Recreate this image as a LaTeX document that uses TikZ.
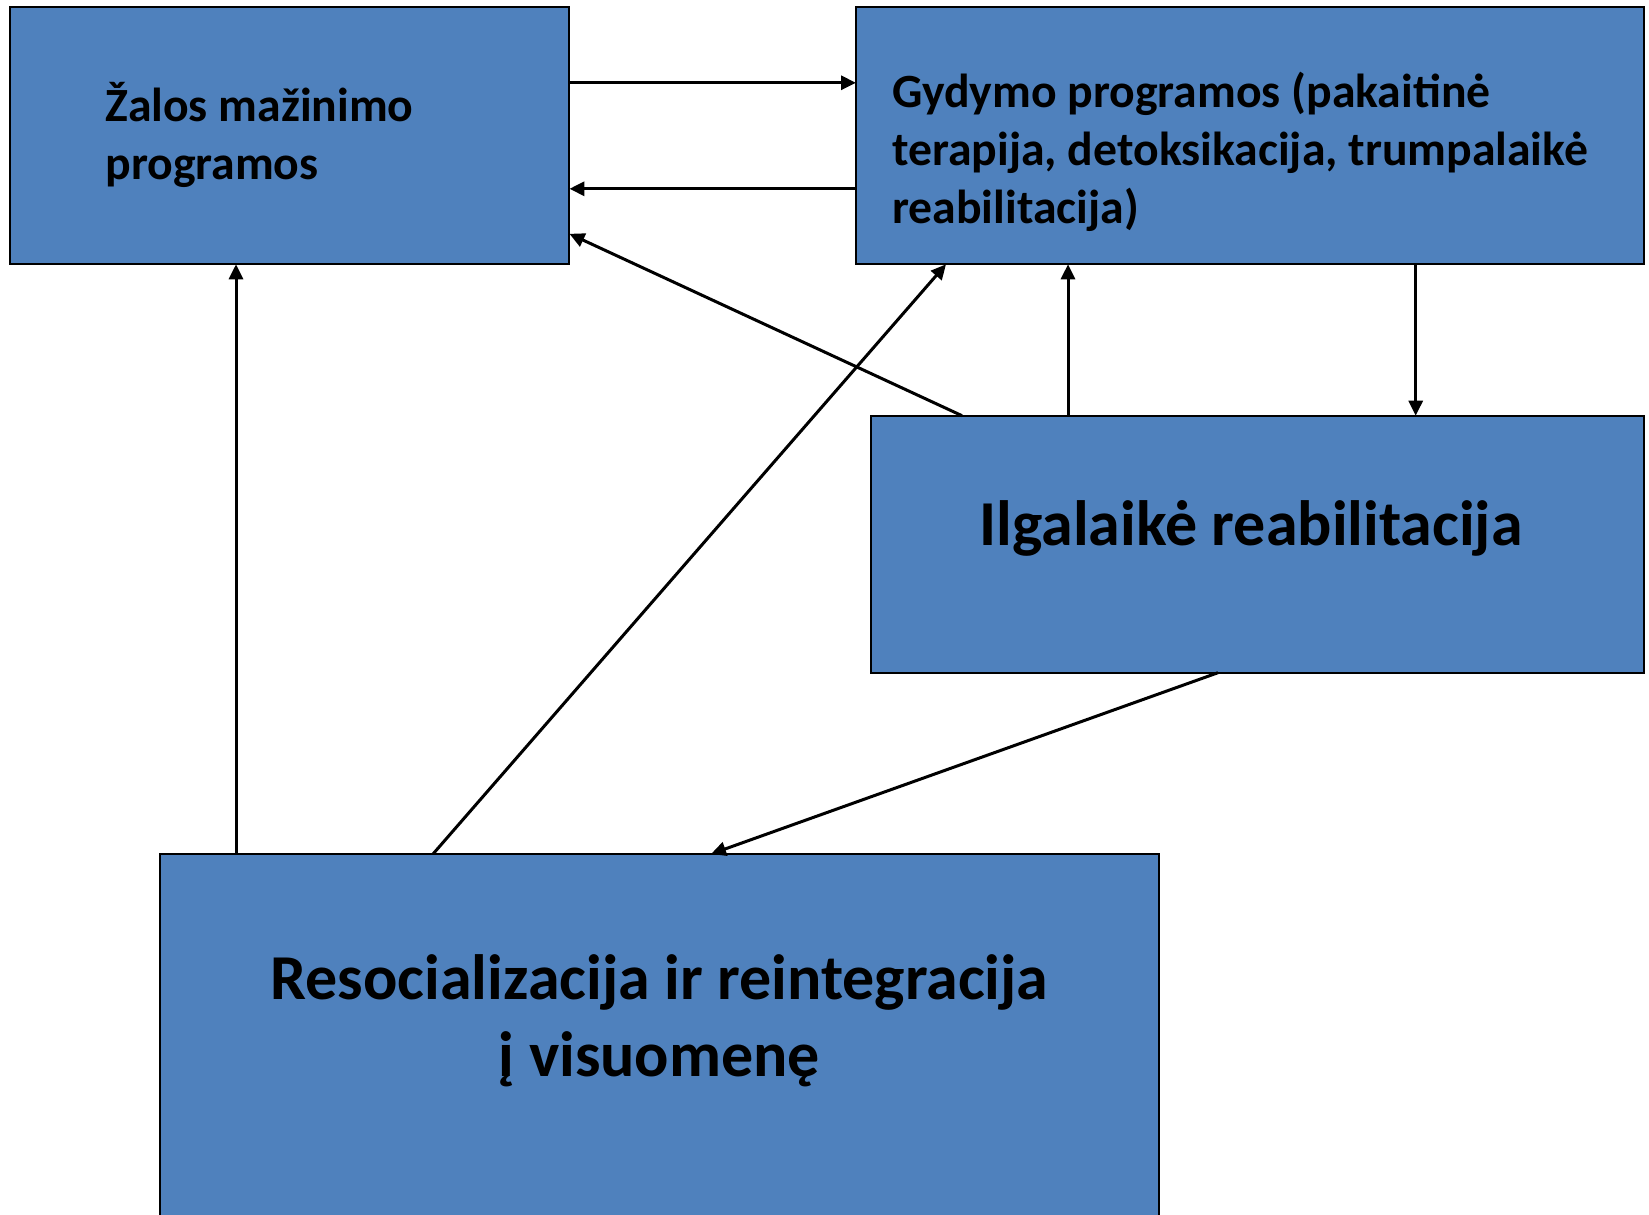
\documentclass[tikz,border=0pt]{standalone}
\usepackage{fontspec}
\setmainfont{Carlito}
\usetikzlibrary{arrows.meta}

\begin{document}
\begin{tikzpicture}[x=0.5pt, y=-0.5pt,
  box/.style={draw=black, line width=1pt, fill=boxblue, outer sep=0pt, inner sep=0pt},
  smalltxt/.style={font=\fontsize{23.85pt}{29pt}\selectfont\bfseries, inner sep=0pt, align=left},
  bigtxt/.style={font=\fontsize{32pt}{38.5pt}\selectfont\bfseries, inner sep=0pt, align=center},
  link/.style={line width=1.5pt, -{Triangle[length=7.5pt,width=7pt]}}]
\definecolor{boxblue}{HTML}{4F81BD}
\useasboundingbox (0,0) rectangle (1649,1215);

\node[box, minimum width=279.85pt, minimum height=128.5pt] (zalos) at (289.6,135.8) {};
\node[box, minimum width=393.8pt, minimum height=128.5pt] (gydymo) at (1249.8,135.8) {};
\node[box, minimum width=386.3pt, minimum height=128.5pt] (ilgalaike) at (1257.5,544.2) {};
\node[box, minimum width=499.5pt, minimum height=188pt] (resoc) at (659.5,1042) {};

\node[smalltxt, anchor=base west] (zalostxt) at (105,179) {Žalos mažinimo\\programos};
\node[smalltxt, anchor=base west] (gydymotxt) at (892,223) {Gydymo programos (pakaitinė\\terapija, detoksikacija, trumpalaikė\\reabilitacija)};
\node[bigtxt, anchor=base] (ilgalaiketxt) at (1251,545) {Ilgalaikė reabilitacija};
\node[bigtxt, anchor=base] (resoctxt) at (659.5,1076) {Resocializacija ir reintegracija\\į visuomenę};

\draw[link] ([yshift=26.5pt]zalos.east) -- ([yshift=26.5pt]gydymo.west);
\draw[link] ([yshift=-26.5pt]gydymo.west) -- ([yshift=-26.5pt]zalos.east);
\draw[link] ([xshift=-147.75pt]ilgalaike.north) -- ([yshift=-49pt]zalos.east);
\draw[link] ([xshift=-94.75pt]ilgalaike.north) -- ([xshift=-94.75pt]ilgalaike.north |- gydymo.south);
\draw[link] ([xshift=82.95pt]gydymo.south) -- ([xshift=82.95pt]gydymo.south |- ilgalaike.north);
\draw[link] ([xshift=-19.75pt]ilgalaike.south) -- ([xshift=25.75pt]resoc.north);
\draw[link] ([xshift=-113.25pt]resoc.north) -- ([xshift=-151.9pt]gydymo.south);
\draw[link] ([xshift=-26.8pt]zalos.south |- resoc.north) -- ([xshift=-26.8pt]zalos.south);
\end{tikzpicture}
\end{document}
